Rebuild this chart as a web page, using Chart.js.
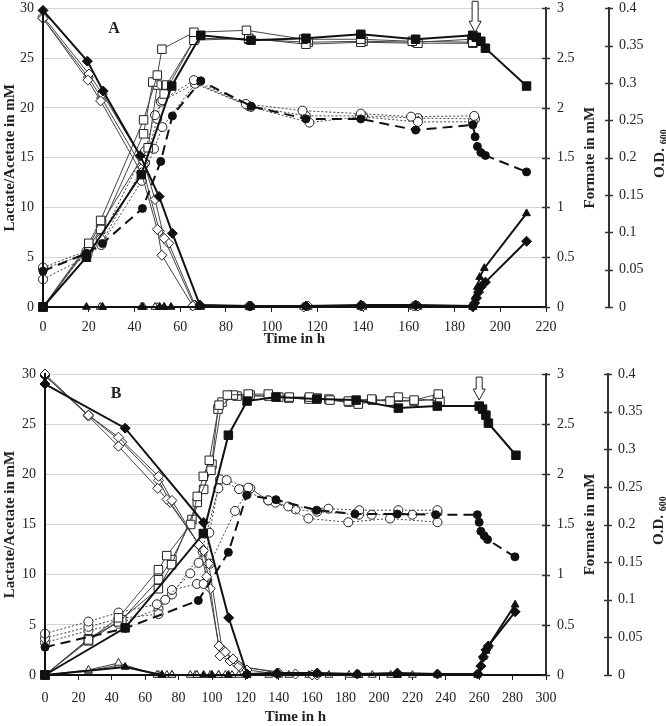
<!DOCTYPE html>
<html>
<head>
<meta charset="utf-8">
<script src="https://cdn.jsdelivr.net/npm/chart.js@4.4.0/dist/chart.umd.min.js"></script>
<style>
body { margin: 0; background: #fff; }
canvas { display: block; }
</style>
</head>
<body>
<canvas id="chartA" width="666" height="355"></canvas>
<canvas id="chartB" width="666" height="371"></canvas>
<script>
// tick labels
const mmTicks = [0, 5, 10, 15, 20, 25, 30];
const formateTicks = [0, 0.5, 1, 1.5, 2, 2.5, 3];
const odTicks = [0, 0.05, 0.1, 0.15, 0.2, 0.25, 0.3, 0.35, 0.4];
const timeTicksA = [0, 20, 40, 60, 80, 100, 120, 140, 160, 180, 200, 220];
const timeTicksB = [0, 20, 40, 60, 80, 100, 120, 140, 160, 180, 200, 220, 240, 260, 280, 300];

// ---- panel A, [time h, value] ----
// lactate (mM), diamonds
const aLacFill = [[0,29.8],[19.4,24.7],[26.3,21.7],[42.5,15.2],[50.8,11.1],[56.6,7.4],[68.6,0.2],[90.5,0.1],[115,0.1],[139,0.2],[163,0.2],[188,0.1],[188.8,0.4],[189.6,0.9],[190.5,1.5],[191.5,2.0],[193.5,2.5],[211.5,6.6]];
const aLacOpen1 = [[0,29.0],[19.6,22.8],[25.2,20.7],[43,13.5],[50,7.8],[52,5.2],[65.5,0.1],[90,0.1],[114,0.0],[139,0.1],[162,0.1],[188,0.1]];
const aLacOpen2 = [[0,29.2],[20.1,23.4],[26,21.4],[44,14.6],[49,10.8],[53,6.9],[66,0.2],[91,0.1],[116,0.1],[140,0.1],[164,0.1],[188,0.1]];
const aLacOpen3 = [[0,29.0],[19.8,23.1],[25.6,21.0],[43.5,14.0],[51,7.6],[55,6.4],[66.5,0.2],[90,0.1],[115,0.1],[139,0.1],[163,0.1],[188,0.0]];
// acetate (mM), squares
const aAceFill = [[0,0],[19,5.0],[43,13.3],[56.3,22.2],[69,27.3],[91,26.8],[115,27.0],[139,27.4],[163,26.9],[188,27.3],[189.5,27.1],[191.5,26.7],[193.5,26.0],[211.5,22.2]];
const aAceOpen1 = [[0,0],[20,6.4],[25.2,8.7],[44,18.8],[50,23.3],[52,25.9],[66,27.6],[89,27.8],[114,26.9],[139,26.9],[161.5,26.7],[188,26.6]];
const aAceOpen2 = [[0,0],[20,6.0],[25.2,7.8],[44,17.4],[48,22.6],[53,21.4],[66,26.8],[90,27.0],[115,26.4],[139,26.6],[164,26.5],[188,26.5]];
const aAceOpen3 = [[0,0],[20,6.2],[25.6,8.4],[46,16.0],[50,22.3],[54,22.3],[66.5,27.0],[90,26.9],[116,26.6],[140,26.7],[163,26.6],[187.5,26.9]];
// O.D. 600, circles
const aOdFill = [[0,0.048],[19,0.072],[26,0.085],[43.5,0.132],[51.5,0.195],[56.6,0.256],[69,0.303],[91,0.269],[115,0.252],[139,0.252],[163,0.237],[188,0.244],[189,0.228],[190,0.215],[191.5,0.207],[193.5,0.203],[211.5,0.181]];
const aOdOpen1 = [[0,0.053],[19,0.075],[25.2,0.091],[44.6,0.209],[49,0.257],[52.2,0.277],[66,0.304],[88.7,0.272],[113.5,0.263],[139,0.259],[161,0.255],[188.6,0.256]];
const aOdOpen2 = [[0,0.037],[19,0.067],[25.5,0.083],[43.2,0.169],[48.6,0.212],[52.2,0.241],[66.5,0.299],[91,0.268],[116.5,0.247],[138.5,0.255],[164,0.248],[188,0.248]];
const aOdOpen3 = [[0,0.051],[19.5,0.071],[26,0.088],[44.6,0.193],[50,0.252],[51.5,0.275],[67,0.300],[90,0.269],[115,0.256],[140,0.256],[164,0.253],[189,0.252]];
// formate (mM), triangles
const aForFill = [[0,0],[19,0],[26,0],[43.5,0],[51,0],[53,0],[56,0],[69,0],[90.5,0],[115,0],[139,0.01],[163,0.01],[188,0],[189,0.1],[190,0.2],[191,0.3],[193,0.39],[211.5,0.94]];
const aForOpen1 = [[0,0],[25,0],[43,0],[49,0],[51,0],[66,0],[90,0],[114,0],[139,0],[162,0],[188,0]];
const aForOpen2 = [[0,0],[26,0],[44,0],[50,0],[53,0],[66.5,0],[91,0],[116,0],[140,0],[164,0],[188,0]];

// ---- panel B ----
const bLacFill = [[0,29.0],[48,24.6],[95,15.2],[110,5.7],[121,0.1],[139,0.2],[163,0.2],[187,0.1],[211,0.2],[235,0.1],[259,0.1],[261,0.9],[262.5,1.8],[264,2.5],[265.5,2.9],[281.5,6.3]];
const bLacOpen1 = [[0,30.0],[26,25.9],[44,23.7],[68,19.8],[76,17.4],[92,13.0],[96.8,9.8],[104.2,2.9],[108,2.3],[112.6,1.6],[121,0.5],[139,0.1],[163,0]];
const bLacOpen2 = [[0,29.9],[26,25.8],[44,22.8],[67.5,18.6],[73,17.5],[95,12.4],[99,8.6],[104.8,1.9],[110.8,1.4],[116,0.9],[140,0.2],[160,0]];
const bLacOpen3 = [[0,29.8],[26,25.9],[46,23.2],[68,19.4],[75,17.2],[93,12.8],[98,11.1],[106,2.6],[114,1.2],[117,0.8],[150,0.1]];
const bAceFill = [[0,0],[48,4.7],[94.8,14.1],[109.8,23.9],[121,27.3],[138.3,27.7],[162.7,27.5],[186.3,27.4],[211.6,26.6],[234.9,26.8],[260,26.8],[262,26.5],[264,25.9],[265.5,25.1],[282,21.9]];
const bAceOpen1 = [[0,0],[26,3.5],[44,5.7],[67.9,10.5],[72.9,11.9],[87.2,15.0],[91.2,17.8],[94.8,19.8],[98.4,21.4],[104.2,26.9],[109.2,27.9],[121.7,28.0],[133.7,28.0],[146.3,27.7],[158.3,27.7],[170.7,27.4],[181.6,27.3],[195.6,27.5],[206.6,27.3],[221,27.4],[235.5,28.0]];
const bAceOpen2 = [[0,0],[26,3.4],[44,5.3],[67.9,8.6],[75.8,11.0],[91.2,17.2],[99.4,20.4],[103.6,26.5],[112.8,27.9],[122.8,27.9],[140,27.7],[163,27.6],[187.6,27.0],[211.6,27.7],[236.5,27.3]];
const bAceOpen3 = [[0,0],[26,3.6],[46,5.5],[68,9.5],[76,11.5],[88,15.5],[95,18.5],[100,21.0],[106,27.2],[115,27.8],[134,27.8],[146,27.6],[158,27.5],[170,27.5],[182,27.2],[196,27.4],[207,27.3],[221,27.3],[235,27.5]];
const bOdFill = [[0,0.037],[48,0.062],[91.8,0.099],[109.8,0.163],[120.8,0.239],[138.3,0.233],[162.7,0.219],[185.6,0.214],[211,0.214],[234,0.213],[258.9,0.213],[260,0.203],[261,0.191],[263,0.185],[265,0.180],[281.4,0.157]];
const bOdOpen1 = [[0,0.055],[26,0.071],[44,0.083],[67,0.094],[72,0.100],[87,0.135],[92,0.149],[103.8,0.248],[108.8,0.259],[121.7,0.249],[133.7,0.232],[145.7,0.224],[169.7,0.221],[188.2,0.219],[211.6,0.219],[235,0.219]];
const bOdOpen2 = [[0,0.049],[26,0.064],[44,0.075],[68,0.081],[76,0.113],[91,0.121],[95,0.121],[98.4,0.189],[104.8,0.260],[116.2,0.247],[138,0.229],[157.7,0.208],[181.6,0.203],[206.6,0.208],[235,0.203]];
const bOdOpen3 = [[0,0.043],[26,0.059],[44,0.068],[68,0.088],[76,0.107],[94.4,0.164],[98.8,0.148],[113.8,0.218],[123,0.248],[133.7,0.232],[150,0.220],[163,0.217],[188,0.213],[195.6,0.213],[220,0.213],[235,0.216]];
const bForFill = [[0,0],[48,0.08],[70,0],[95,0],[100,0],[109.8,0],[121,0],[139,0.01],[163,0.01],[187,0],[211,0],[235,0.01],[259,0],[260,0.02],[261,0.1],[262.5,0.18],[264,0.24],[265.5,0.29],[281.5,0.70]];
const bForOpen1 = [[0,0],[26,0.05],[44,0.12],[67,0],[70,0],[73,0],[76,0],[87,0],[91,0],[99,0],[104,0],[108,0],[112,0],[121,0],[134,0],[146,0],[158,0],[170,0],[182,0],[188,0],[196,0],[207,0],[220,0],[235,0.01]];
const bForOpen2 = [[0,0],[26,0.04],[44,0.10],[68,0],[76,0],[90,0],[104,0],[116,0],[140,0],[160,0],[188,0],[211,0],[235,0]];

Chart.defaults.font.family = "'Liberation Serif', 'Times New Roman', serif";
Chart.defaults.font.size = 14;
Chart.defaults.color = '#222';
Chart.defaults.animation = false;

function pts(arr) {
    return arr.map(p => ({ x: p[0], y: p[1] }));
}

// solid black markers, heavy line
function filled(arr, shape, axis, r, dash) {
    return {
        data: pts(arr), yAxisID: axis, pointStyle: shape, pointRadius: r,
        borderColor: '#111', backgroundColor: '#111',
        pointBackgroundColor: '#111', pointBorderColor: '#111', pointBorderWidth: 1,
        borderWidth: 2, borderDash: dash || [], tension: 0, clip: false
    };
}

// white markers, thin line
function open(arr, shape, axis, r, dash) {
    return {
        data: pts(arr), yAxisID: axis, pointStyle: shape, pointRadius: r,
        borderColor: '#444', backgroundColor: '#fff',
        pointBackgroundColor: '#fff', pointBorderColor: '#222', pointBorderWidth: 1,
        borderWidth: 1, borderDash: dash || [], tension: 0, clip: false
    };
}

function setTicks(list) {
    return function (scale) { scale.ticks = list.map(v => ({ value: v })); };
}

const extras = {
    id: 'extras',
    afterDraw(chart, args, o) {
        const { ctx, chartArea, scales } = chart;
        ctx.save();

        // tick marks crossing the two right axes
        ctx.strokeStyle = '#333';
        ctx.lineWidth = 1.5;
        [[scales.yF, formateTicks], [scales.yOD, odTicks]].forEach(([s, list]) => {
            list.forEach(v => {
                const y = Math.round(s.getPixelForValue(v)) + 0.5;
                ctx.beginPath();
                ctx.moveTo(s.left - 4, y);
                ctx.lineTo(s.left + 4, y);
                ctx.stroke();
            });
        });

        // panel letter
        ctx.font = "bold 16px 'Liberation Serif'";
        ctx.fillStyle = '#222';
        ctx.textAlign = 'center';
        ctx.textBaseline = 'middle';
        ctx.fillText(o.letter, chartArea.left + 71, chartArea.top + 20);

        // open arrow marking the addition
        const ax = scales.x.getPixelForValue(o.arrowX);
        const tip = scales.y.getPixelForValue(o.arrowTip);
        const top = tip - o.arrowLen;
        const head = tip - 11;
        ctx.beginPath();
        ctx.moveTo(ax - 3, top);
        ctx.lineTo(ax + 3, top);
        ctx.lineTo(ax + 3, head);
        ctx.lineTo(ax + 6, head);
        ctx.lineTo(ax, tip);
        ctx.lineTo(ax - 6, head);
        ctx.lineTo(ax - 3, head);
        ctx.closePath();
        ctx.fillStyle = '#fff';
        ctx.fill();
        ctx.strokeStyle = '#222';
        ctx.lineWidth = 1;
        ctx.stroke();

        // right axis titles, reading upwards
        const cy = (chartArea.top + chartArea.bottom) / 2;
        ctx.fillStyle = '#222';
        ctx.translate(scales.yF.left + 44, cy);
        ctx.rotate(-Math.PI / 2);
        ctx.font = "bold 15px 'Liberation Serif'";
        ctx.fillText('Formate in mM', 0, 0);
        ctx.rotate(Math.PI / 2);
        ctx.translate(-(scales.yF.left + 44), -cy);

        ctx.translate(scales.yOD.left + 51, cy - 4);
        ctx.rotate(-Math.PI / 2);
        ctx.textAlign = 'left';
        ctx.font = "bold 15px 'Liberation Serif'";
        const w1 = ctx.measureText('O.D. ').width;
        ctx.font = "bold 10px 'Liberation Serif'";
        const w2 = ctx.measureText('600').width;
        const x0 = -(w1 + w2) / 2;
        ctx.font = "bold 15px 'Liberation Serif'";
        ctx.fillText('O.D. ', x0, 0);
        ctx.font = "bold 10px 'Liberation Serif'";
        ctx.fillText('600', x0 + w1, 4);
        ctx.restore();
    }
};

function makeChart(id, sets, p) {
    return new Chart(document.getElementById(id), {
        type: 'line',
        data: { datasets: sets },
        plugins: [extras],
        options: {
            responsive: false,
            devicePixelRatio: 1,
            layout: { padding: { top: p.padTop, left: 0, right: 0, bottom: 0 } },
            plugins: {
                legend: { display: false },
                tooltip: { enabled: false },
                extras: { letter: p.letter, arrowX: p.arrowX, arrowTip: p.arrowTip, arrowLen: p.arrowLen }
            },
            scales: {
                x: {
                    type: 'linear', min: 0, max: p.xMax,
                    afterBuildTicks: setTicks(p.xTicks),
                    afterFit: s => { s.height = p.xH; },
                    grid: { drawOnChartArea: false, drawTicks: true, tickLength: 5, color: '#222' },
                    border: { color: '#111', width: 2, z: 1 },
                    ticks: { padding: p.xPad, maxRotation: 0, autoSkip: false, font: { size: 14 } },
                    title: { display: true, text: 'Time in h', font: { size: 15, weight: 'bold' }, padding: { top: 0, bottom: p.titlePad } }
                },
                y: {
                    type: 'linear', position: 'left', min: 0, max: 30,
                    afterBuildTicks: setTicks(mmTicks),
                    afterFit: s => { s.width = p.leftW; },
                    grid: { color: '#d4d4d4', drawTicks: true, tickLength: 9, tickColor: 'rgba(0,0,0,0)', lineWidth: 1 },
                    border: { color: '#111', width: 2, z: 1 },
                    ticks: { padding: 0, font: { size: 14 } },
                    title: { display: true, text: 'Lactate/Acetate in mM', font: { size: 15, weight: 'bold' }, padding: { top: 1, bottom: 0 } }
                },
                yF: {
                    type: 'linear', position: 'right', weight: 0, min: 0, max: 3,
                    afterBuildTicks: setTicks(formateTicks),
                    afterFit: s => { s.width = p.fW; },
                    grid: { drawOnChartArea: false, tickLength: 11, tickColor: 'rgba(0,0,0,0)' },
                    border: { color: '#333', width: 2 },
                    ticks: { padding: 0, font: { size: 14 }, callback: v => String(v) }
                },
                yOD: {
                    type: 'linear', position: 'right', weight: 1, min: 0, max: 0.4,
                    afterBuildTicks: setTicks(odTicks),
                    afterFit: s => { s.width = p.odW; },
                    grid: { drawOnChartArea: false, tickLength: 10, tickColor: 'rgba(0,0,0,0)' },
                    border: { color: '#333', width: 2 },
                    ticks: { padding: 0, font: { size: 14 }, callback: v => String(+v.toFixed(2)) }
                }
            }
        }
    });
}

const setsA = [
    filled(aLacFill, 'rectRot', 'y', 5),
    filled(aAceFill, 'rect', 'y', 6),
    filled(aOdFill, 'circle', 'yOD', 4, [10, 6]),
    filled(aForFill, 'triangle', 'yF', 4.5),
    open(aLacOpen1, 'rectRot', 'y', 5), open(aLacOpen2, 'rectRot', 'y', 5), open(aLacOpen3, 'rectRot', 'y', 5),
    open(aAceOpen1, 'rect', 'y', 6), open(aAceOpen2, 'rect', 'y', 6), open(aAceOpen3, 'rect', 'y', 6),
    open(aOdOpen1, 'circle', 'yOD', 4.5, [2, 2]), open(aOdOpen2, 'circle', 'yOD', 4.5, [2, 2]), open(aOdOpen3, 'circle', 'yOD', 4.5, [2, 2]),
    open(aForOpen1, 'triangle', 'yF', 4.5), open(aForOpen2, 'triangle', 'yF', 4.5)
];

const setsB = [
    filled(bLacFill, 'rectRot', 'y', 5),
    filled(bAceFill, 'rect', 'y', 6),
    filled(bOdFill, 'circle', 'yOD', 4, [10, 6]),
    filled(bForFill, 'triangle', 'yF', 4.5),
    open(bLacOpen1, 'rectRot', 'y', 5), open(bLacOpen2, 'rectRot', 'y', 5), open(bLacOpen3, 'rectRot', 'y', 5),
    open(bAceOpen1, 'rect', 'y', 6), open(bAceOpen2, 'rect', 'y', 6), open(bAceOpen3, 'rect', 'y', 6),
    open(bOdOpen1, 'circle', 'yOD', 4.5, [2, 2]), open(bOdOpen2, 'circle', 'yOD', 4.5, [2, 2]), open(bOdOpen3, 'circle', 'yOD', 4.5, [2, 2]),
    open(bForOpen1, 'triangle', 'yF', 4.5), open(bForOpen2, 'triangle', 'yF', 4.5)
];

makeChart('chartA', setsA, {
    letter: 'A', xMax: 220, xTicks: timeTicksA, padTop: 8, xH: 48, xPad: 7, titlePad: 7,
    leftW: 43, fW: 63, odW: 57, arrowX: 189, arrowTip: 27.6, arrowLen: 31
});
makeChart('chartB', setsB, {
    letter: 'B', xMax: 300, xTicks: timeTicksB, padTop: 19, xH: 51, xPad: 10, titlePad: 0,
    leftW: 45, fW: 62, odW: 58, arrowX: 260, arrowTip: 27.4, arrowLen: 23
});
</script>
</body>
</html>
